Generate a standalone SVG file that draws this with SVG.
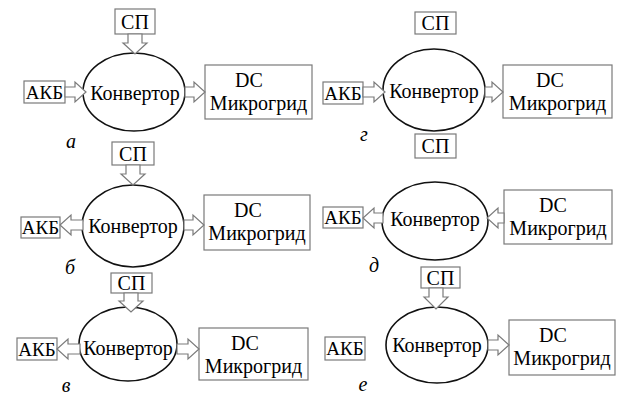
<svg xmlns="http://www.w3.org/2000/svg" width="617" height="400" viewBox="0 0 617 400">
<style>
text{fill:#000;text-anchor:middle}
.box{fill:#fff;stroke:#7a7a7a;stroke-width:1.2}
.ell{fill:#fff;stroke:#111;stroke-width:1.6}
.conn{fill:#fff;stroke:#7a7a7a;stroke-width:1.2;stroke-linejoin:miter}
</style>
<rect width="617" height="400" fill="#fff"/>

<!-- Panel a -->
<g id="a-sp"><rect class="box" x="115" y="9" width="40" height="25"/><text font-family="Liberation Serif" font-size="20" x="135" y="29">СП</text></g>
<g id="a-conv"><ellipse class="ell" cx="134" cy="92" rx="51" ry="39"/><text font-family="Liberation Serif" font-size="20" x="135" y="100">Конвертор</text></g>
<g id="a-akb"><rect class="box" x="24" y="81" width="41" height="22"/><text font-family="Liberation Serif" font-size="19" x="44.5" y="99">АКБ</text></g>
<g id="a-dc"><rect class="box" x="205" y="65" width="107" height="54"/><text font-family="Liberation Serif" font-size="20" x="249" y="87">DC</text><text font-family="Liberation Serif" font-size="20" x="258.5" y="110">Микрогрид</text></g>
<text font-family="Liberation Serif" font-style="italic" font-size="20" x="71" y="148">а</text>

<!-- Panel г -->
<g id="g-sp1"><rect class="box" x="415" y="12" width="41" height="22"/><text font-family="Liberation Serif" font-size="20" x="435.5" y="30">СП</text></g>
<g id="g-conv"><ellipse class="ell" cx="434" cy="90" rx="51" ry="41"/><text font-family="Liberation Serif" font-size="20" x="434" y="98">Конвертор</text></g>
<g id="g-akb"><rect class="box" x="323" y="82" width="40" height="22"/><text font-family="Liberation Serif" font-size="19" x="343" y="100">АКБ</text></g>
<g id="g-dc"><rect class="box" x="503" y="65" width="109" height="53"/><text font-family="Liberation Serif" font-size="20" x="550" y="87">DC</text><text font-family="Liberation Serif" font-size="20" x="557.5" y="110">Микрогрид</text></g>
<g id="g-sp2"><rect class="box" x="415" y="134" width="41" height="24"/><text font-family="Liberation Serif" font-size="20" x="435.5" y="153">СП</text></g>
<text font-family="Liberation Serif" font-style="italic" font-size="20" x="364" y="141">г</text>

<!-- Panel б -->
<g id="b-sp"><rect class="box" x="112" y="142" width="42" height="23"/><text font-family="Liberation Serif" font-size="20" x="133" y="161">СП</text></g>
<g id="b-conv"><ellipse class="ell" cx="133" cy="226" rx="51" ry="41"/><text font-family="Liberation Serif" font-size="20" x="133" y="233">Конвертор</text></g>
<g id="b-akb"><rect class="box" x="21" y="217" width="39" height="21"/><text font-family="Liberation Serif" font-size="19" x="40.5" y="234">АКБ</text></g>
<g id="b-dc"><rect class="box" x="204" y="195" width="106" height="55"/><text font-family="Liberation Serif" font-size="20" x="248" y="217">DC</text><text font-family="Liberation Serif" font-size="20" x="257" y="240">Микрогрид</text></g>
<text font-family="Liberation Serif" font-style="italic" font-size="20" x="70" y="274">б</text>

<!-- Panel д -->
<g id="d-conv"><ellipse class="ell" cx="435" cy="221" rx="53" ry="39"/><text font-family="Liberation Serif" font-size="20" x="435" y="226">Конвертор</text></g>
<g id="d-akb"><rect class="box" x="323" y="207" width="40" height="21"/><text font-family="Liberation Serif" font-size="19" x="343" y="224">АКБ</text></g>
<g id="d-dc"><rect class="box" x="504" y="190" width="108" height="54"/><text font-family="Liberation Serif" font-size="20" x="553" y="212">DC</text><text font-family="Liberation Serif" font-size="20" x="558" y="235">Микрогрид</text></g>
<text font-family="Liberation Serif" font-style="italic" font-size="20" x="374" y="272">д</text>

<!-- Panel в -->
<g id="v-sp"><rect class="box" x="111" y="273" width="41" height="20"/><text font-family="Liberation Serif" font-size="20" x="131.5" y="290">СП</text></g>
<g id="v-conv"><ellipse class="ell" cx="128" cy="344" rx="49" ry="37"/><text font-family="Liberation Serif" font-size="20" x="128" y="355">Конвертор</text></g>
<g id="v-akb"><rect class="box" x="17" y="338" width="40" height="22"/><text font-family="Liberation Serif" font-size="19" x="37" y="356">АКБ</text></g>
<g id="v-dc"><rect class="box" x="199" y="328" width="109" height="52"/><text font-family="Liberation Serif" font-size="20" x="245" y="350">DC</text><text font-family="Liberation Serif" font-size="20" x="253.5" y="373">Микрогрид</text></g>
<text font-family="Liberation Serif" font-style="italic" font-size="20" x="66" y="392">в</text>

<!-- Panel е -->
<g id="e-sp"><rect class="box" x="421" y="267" width="39" height="21"/><text font-family="Liberation Serif" font-size="20" x="440.5" y="285">СП</text></g>
<g id="e-conv"><ellipse class="ell" cx="437" cy="345" rx="51" ry="38"/><text font-family="Liberation Serif" font-size="20" x="437" y="352">Конвертор</text></g>
<g id="e-akb"><rect class="box" x="325" y="337" width="40" height="23"/><text font-family="Liberation Serif" font-size="19" x="345" y="355">АКБ</text></g>
<g id="e-dc"><rect class="box" x="509" y="320" width="106" height="55"/><text font-family="Liberation Serif" font-size="20" x="553" y="342">DC</text><text font-family="Liberation Serif" font-size="20" x="562" y="365">Микрогрид</text></g>
<text font-family="Liberation Serif" font-style="italic" font-size="20" x="363" y="391">е</text>

<g id="connectors">
<!-- a -->
<polygon class="conn" points="128,34 142,34 142,43 147,43 135,54 123,43 128,43"/>
<polygon class="conn" points="65,87 75,87 75,82 86,92 75,102 75,97 65,97"/>
<polygon class="conn" points="185,87 194,87 194,82 205,92 194,102 194,97 185,97"/>
<!-- г -->
<polygon class="conn" points="363,87 374,87 374,82 385,92 374,102 374,97 363,97"/>
<polygon class="conn" points="485,87 492,87 492,82 503,92 492,102 492,97 485,97"/>
<!-- б -->
<polygon class="conn" points="126,165 140,165 140,174 145,174 133,185 121,174 126,174"/>
<polygon class="conn" points="83,220 71,220 71,215 60,225 71,235 71,230 83,230"/>
<polygon class="conn" points="184,220 193,220 193,215 204,225 193,235 193,230 184,230"/>
<!-- д -->
<polygon class="conn" points="383,213 374,213 374,208 363,218 374,228 374,223 383,223"/>
<polygon class="conn" points="504,213 498,213 498,208 487,218 498,228 498,223 504,223"/>
<!-- в -->
<polygon class="conn" points="124,293 138,293 138,301 143,301 131,312 119,301 124,301"/>
<polygon class="conn" points="80,344 68,344 68,339 57,349 68,359 68,354 80,354"/>
<polygon class="conn" points="177,344 188,344 188,339 199,349 188,359 188,354 177,354"/>
<!-- е -->
<polygon class="conn" points="429,288 443,288 443,297 448,297 436,309 424,297 429,297"/>
<polygon class="conn" points="488,340 498,340 498,335 509,345 498,355 498,350 488,350"/>
</g>
</svg>
